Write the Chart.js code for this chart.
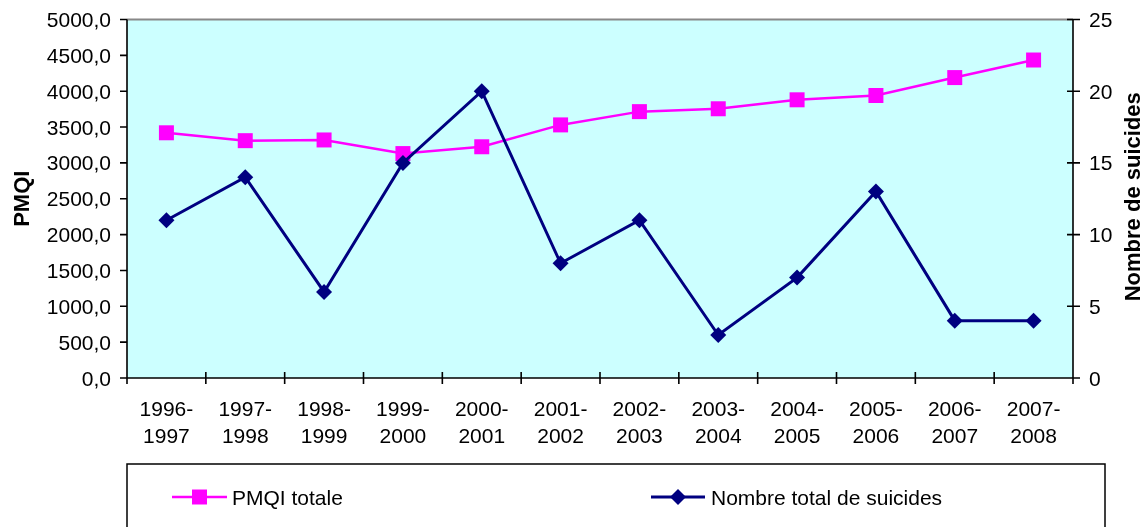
<!DOCTYPE html>
<html>
<head>
<meta charset="utf-8">
<script src="https://cdn.jsdelivr.net/npm/chart.js@4.4.1/dist/chart.umd.min.js"></script>
<style>
  html, body { margin: 0; padding: 0; background: #ffffff; }
  #wrap { width: 1144px; height: 527px; position: relative; }
</style>
</head>
<body>
<div id="wrap"><canvas id="chart" width="1144" height="527"></canvas></div>
<script>
// Season labels (two lines each)
const categories = [
  ['1996-', '1997'], ['1997-', '1998'], ['1998-', '1999'], ['1999-', '2000'],
  ['2000-', '2001'], ['2001-', '2002'], ['2002-', '2003'], ['2003-', '2004'],
  ['2004-', '2005'], ['2005-', '2006'], ['2006-', '2007'], ['2007-', '2008']
];
// PMQI totale (left axis)
const pmqiTotale = [3420, 3310, 3320, 3130, 3225, 3530, 3715, 3755, 3880, 3940, 4190, 4435];
// Nombre total de suicides (right axis)
const suicides = [11, 14, 6, 15, 20, 8, 11, 3, 7, 13, 4, 4];
// Axis ticks
const leftTicks = [0, 500, 1000, 1500, 2000, 2500, 3000, 3500, 4000, 4500, 5000];
const leftTickLabels = ['0,0', '500,0', '1000,0', '1500,0', '2000,0', '2500,0', '3000,0', '3500,0', '4000,0', '4500,0', '5000,0'];
const rightTicks = [0, 5, 10, 15, 20, 25];
const rightTickLabels = ['0', '5', '10', '15', '20', '25'];

const FONT = '"Liberation Sans", Arial, Helvetica, sans-serif';
const PINK = '#FF00FF';
const NAVY = '#000080';
const PLOT_BG = '#CCFFFF';
const LEGEND_LEFT = 127;
const LEGEND_RIGHT = 1105;
const LEGEND_TOP = 464;

// text drawn so that the middle of capital letters sits at y
function capText(ctx, txt, x, y, size, align, bold) {
  ctx.font = (bold ? 'bold ' : '') + size + 'px ' + FONT;
  ctx.textAlign = align;
  ctx.textBaseline = 'alphabetic';
  ctx.fillText(txt, x, y + 0.358 * size);
}

const framePlugin = {
  id: 'frame',
  beforeDatasetsDraw(chart) {
    const { ctx, chartArea: a } = chart;
    const yl = chart.scales.y, yr = chart.scales.y1, x = chart.scales.x;
    ctx.save();
    // plot background
    ctx.fillStyle = PLOT_BG;
    ctx.fillRect(a.left, a.top, a.right - a.left, a.bottom - a.top);
    // top border line (gridline at the maximum)
    ctx.strokeStyle = '#888888';
    ctx.lineWidth = 2;
    ctx.beginPath();
    ctx.moveTo(a.left, yl.getPixelForValue(5000));
    ctx.lineTo(a.right, yl.getPixelForValue(5000));
    ctx.stroke();

    ctx.strokeStyle = '#000000';
    ctx.lineWidth = 1.6;
    ctx.beginPath();
    // left axis
    ctx.moveTo(a.left, a.top); ctx.lineTo(a.left, a.bottom);
    // right axis
    ctx.moveTo(a.right, a.top); ctx.lineTo(a.right, a.bottom);
    // bottom axis
    ctx.moveTo(a.left - 7, a.bottom); ctx.lineTo(a.right, a.bottom);
    // left ticks (outside)
    leftTicks.forEach(v => {
      const py = yl.getPixelForValue(v);
      ctx.moveTo(a.left - 7, py); ctx.lineTo(a.left, py);
    });
    // right ticks (cross)
    rightTicks.forEach(v => {
      const py = yr.getPixelForValue(v);
      ctx.moveTo(a.right - 6, py); ctx.lineTo(a.right + 7, py);
    });
    // category boundary ticks (cross)
    for (let i = 0; i <= categories.length; i++) {
      let px;
      if (i < categories.length) {
        px = (x.getPixelForValue(i) + (i > 0 ? x.getPixelForValue(i - 1) : 2 * x.getPixelForValue(0) - x.getPixelForValue(1))) / 2;
      } else {
        px = (x.getPixelForValue(i - 1) * 3 - x.getPixelForValue(i - 2)) / 2;
      }
      ctx.moveTo(px, a.bottom - 6); ctx.lineTo(px, a.bottom + 6);
    }
    ctx.stroke();

    // tick labels
    ctx.fillStyle = '#000000';
    leftTicks.forEach((v, i) => capText(ctx, leftTickLabels[i], a.left - 16, yl.getPixelForValue(v), 21, 'right'));
    rightTicks.forEach((v, i) => capText(ctx, rightTickLabels[i], a.right + 16, yr.getPixelForValue(v), 21, 'left'));
    categories.forEach((lines, i) => {
      const px = x.getPixelForValue(i);
      lines.forEach((t, k) => capText(ctx, t, px, a.bottom + 30 + k * 27, 21, 'center'));
    });

    // axis titles
    const midY = (a.top + a.bottom) / 2;
    ctx.save();
    ctx.translate(21, midY);
    ctx.rotate(-Math.PI / 2);
    capText(ctx, 'PMQI', 0, 0, 22, 'center', true);
    ctx.restore();
    ctx.save();
    ctx.translate(1132, midY - 2);
    ctx.rotate(-Math.PI / 2);
    capText(ctx, 'Nombre de suicides', 0, 0, 22, 'center', true);
    ctx.restore();
    ctx.restore();
  },
  afterDraw(chart) {
    const { ctx } = chart;
    const ds = chart.data.datasets;
    ctx.save();
    // legend box
    ctx.strokeStyle = '#000000';
    ctx.lineWidth = 1.5;
    ctx.strokeRect(LEGEND_LEFT, LEGEND_TOP, LEGEND_RIGHT - LEGEND_LEFT, 80);
    const ly = 497;
    const items = [
      { x0: 172, x1: 227, tx: 232, d: ds[0] },
      { x0: 651, x1: 705, tx: 711, d: ds[1] }
    ];
    items.forEach(it => {
      ctx.strokeStyle = it.d.borderColor;
      ctx.lineWidth = it.d.borderWidth;
      ctx.beginPath();
      ctx.moveTo(it.x0, ly); ctx.lineTo(it.x1, ly);
      ctx.stroke();
      ctx.fillStyle = it.d.pointBackgroundColor;
      ctx.beginPath();
      const cx = (it.x0 + it.x1) / 2;
      if (it.d.pointStyle === 'rect') {
        const s = it.d.pointRadius * Math.SQRT1_2;
        ctx.rect(cx - s, ly - s, 2 * s, 2 * s);
      } else {
        const r = it.d.pointRadius;
        ctx.moveTo(cx - r, ly); ctx.lineTo(cx, ly - r); ctx.lineTo(cx + r, ly); ctx.lineTo(cx, ly + r);
        ctx.closePath();
      }
      ctx.fill();
      ctx.fillStyle = '#000000';
      capText(ctx, it.d.label, it.tx, ly, 21, 'left');
    });
    ctx.restore();
  }
};

new Chart(document.getElementById('chart'), {
  type: 'line',
  data: {
    labels: categories.map(c => c.join(' ')),
    datasets: [
      {
        label: 'PMQI totale',
        data: pmqiTotale,
        yAxisID: 'y',
        borderColor: PINK,
        backgroundColor: PINK,
        borderWidth: 2.5,
        pointStyle: 'rect',
        pointRadius: 10.6,
        pointBackgroundColor: PINK,
        pointBorderWidth: 0,
        tension: 0,
        clip: false,
        order: 2
      },
      {
        label: 'Nombre total de suicides',
        data: suicides,
        yAxisID: 'y1',
        borderColor: NAVY,
        backgroundColor: NAVY,
        borderWidth: 3,
        pointStyle: 'rectRot',
        pointRadius: 8,
        pointBackgroundColor: NAVY,
        pointBorderWidth: 0,
        tension: 0,
        clip: false,
        order: 1
      }
    ]
  },
  options: {
    responsive: false,
    animation: false,
    events: [],
    layout: { padding: { left: 127, right: 71, top: 19.5, bottom: 149 } },
    plugins: { legend: { display: false }, tooltip: { enabled: false } },
    scales: {
      x: { type: 'category', offset: true, display: false },
      y: { position: 'left', min: 0, max: 5000, display: false },
      y1: { position: 'right', min: 0, max: 25, display: false }
    }
  },
  plugins: [framePlugin]
});
</script>
</body>
</html>
